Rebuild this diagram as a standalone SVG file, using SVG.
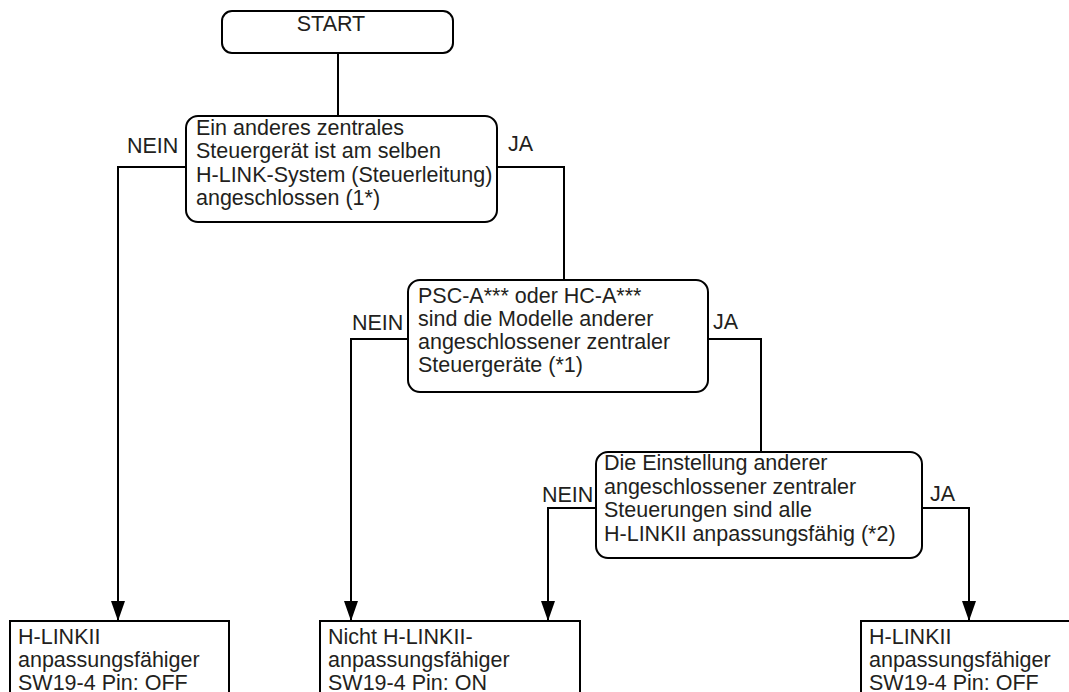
<svg xmlns="http://www.w3.org/2000/svg" width="1069" height="692" viewBox="0 0 1069 692">
<defs>
<style>
.box{fill:#fff;stroke:#000;stroke-width:2}
.t{font-family:"Liberation Sans",Arial,sans-serif;font-size:21.5px;fill:#231f20}
.c{fill:none;stroke:#000;stroke-width:2}
</style>
<marker id="ah" viewBox="0 0 20 14" refX="20" refY="7" markerWidth="20" markerHeight="14" markerUnits="userSpaceOnUse" orient="auto">
<path d="M0,0 L20,7 L0,14 Z" fill="#000"/>
</marker>
</defs>
<rect width="1069" height="692" fill="#fff"/>
<g id="connectors">
<path class="c" d="M338,53 V116"/>
<path class="c" d="M186,167 H118 V621" marker-end="url(#ah)"/>
<path class="c" d="M497,167 H564 V280"/>
<path class="c" d="M408,339 H351 V621" marker-end="url(#ah)"/>
<path class="c" d="M708,339 H761 V452"/>
<path class="c" d="M596,508 H548 V621" marker-end="url(#ah)"/>
<path class="c" d="M922,508 H969 V621" marker-end="url(#ah)"/>
<text class="t" x="127" y="153">NEIN</text>
<text class="t" x="508" y="151">JA</text>
<text class="t" x="352" y="330">NEIN</text>
<text class="t" x="713" y="329">JA</text>
<text class="t" x="542" y="502">NEIN</text>
<text class="t" x="930" y="501">JA</text>
</g>
<g id="start">
<rect class="box" x="222" y="11" width="231" height="42" rx="10"/>
<text class="t" x="331" y="31" text-anchor="middle">START</text>
</g>
<g id="decision1">
<rect class="box" x="186" y="116" width="311" height="106" rx="12"/>
<text class="t" x="196" y="135">Ein anderes zentrales</text>
<text class="t" x="196" y="158">Steuergerät ist am selben</text>
<text class="t" x="196" y="182">H-LINK-System (Steuerleitung)</text>
<text class="t" x="196" y="205">angeschlossen (1*)</text>
</g>
<g id="decision2">
<rect class="box" x="408" y="280" width="300" height="112" rx="12"/>
<text class="t" x="418" y="303">PSC-A*** oder HC-A***</text>
<text class="t" x="418" y="326">sind die Modelle anderer</text>
<text class="t" x="418" y="349">angeschlossener zentraler</text>
<text class="t" x="418" y="372">Steuergeräte (*1)</text>
</g>
<g id="decision3">
<rect class="box" x="596" y="452" width="326" height="106" rx="12"/>
<text class="t" x="604" y="470">Die Einstellung anderer</text>
<text class="t" x="604" y="494">angeschlossener zentraler</text>
<text class="t" x="604" y="517">Steuerungen sind alle</text>
<text class="t" x="604" y="541">H-LINKII anpassungsfähig (*2)</text>
</g>
<g id="result1">
<rect class="box" x="10" y="621" width="219" height="100"/>
<text class="t" x="18" y="644">H-LINKII</text>
<text class="t" x="18" y="667">anpassungsfähiger</text>
<text class="t" x="18" y="690">SW19-4 Pin: OFF</text>
</g>
<g id="result2">
<rect class="box" x="320" y="621" width="260" height="100"/>
<text class="t" x="328" y="644">Nicht H-LINKII-</text>
<text class="t" x="328" y="667">anpassungsfähiger</text>
<text class="t" x="328" y="690">SW19-4 Pin: ON</text>
</g>
<g id="result3">
<rect class="box" x="861" y="621" width="219" height="100"/>
<text class="t" x="869" y="644">H-LINKII</text>
<text class="t" x="869" y="667">anpassungsfähiger</text>
<text class="t" x="869" y="690">SW19-4 Pin: OFF</text>
</g>
</svg>
